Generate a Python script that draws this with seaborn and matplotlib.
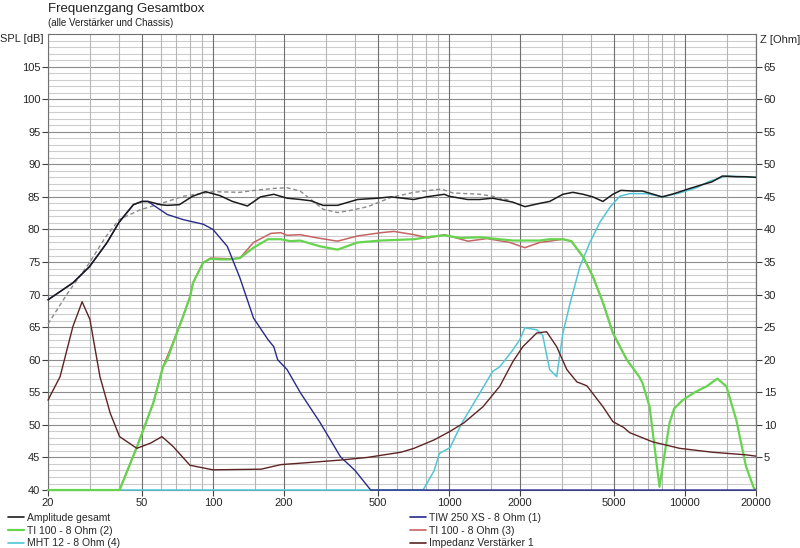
import matplotlib
matplotlib.use("Agg")
import matplotlib.pyplot as plt
from matplotlib.lines import Line2D
from matplotlib.ticker import NullLocator
import pandas as pd
import seaborn as sns

sns.set_style("white")
plt.rcParams['font.family'] = ['Liberation Sans', 'DejaVu Sans']

# --- Daten ---
f_ges = [20, 25.5, 30, 35.6, 40, 46, 50, 53, 60, 64, 72, 82, 93, 107, 121, 140, 159, 181, 206,
         235, 260, 293, 337, 410, 500, 567, 710, 800, 956, 1000, 1200, 1350, 1530, 1860, 2100,
         2420, 2670, 3040, 3350, 3700, 4070, 4490, 4950, 5350, 6000, 6600, 8000, 9000, 10500,
         11900, 13000, 14400, 16500, 18000, 20000]
spl_ges = [69.2, 71.8, 74.3, 78.0, 81.1, 83.8, 84.3, 84.3, 83.8, 83.7, 83.8, 85.1, 85.8, 85.2,
           84.3, 83.6, 85.0, 85.4, 84.8, 84.6, 84.4, 83.7, 83.7, 84.6, 84.8, 85.0, 84.6, 85.0,
           85.4, 85.1, 84.6, 84.6, 84.8, 84.2, 83.5, 84.0, 84.3, 85.4, 85.7, 85.4, 85.0, 84.3,
           85.4, 86.0, 85.9, 85.9, 85.0, 85.5, 86.3, 86.9, 87.3, 88.2, 88.1, 88.1, 88.0]

f_ziel = [20, 24.3, 30, 35, 40, 49, 58, 75, 100, 130, 150, 181, 206, 234, 260, 293, 337, 380,
          453, 567, 711, 927, 1040, 1355, 1531, 1800]
spl_ziel = [65.5, 70.3, 74.9, 78.8, 81.5, 83.0, 83.8, 85.1, 85.8, 85.7, 86.0, 86.3, 86.4, 85.9,
            84.6, 83.1, 82.6, 82.9, 83.5, 84.9, 85.7, 86.2, 85.6, 85.4, 85.1, 84.5]

f_tiw = [20, 25.5, 30, 35.6, 40, 46, 50, 53, 64, 75, 91, 100, 115, 130, 148.5, 171, 181, 188,
         206, 235, 285, 347, 400, 466, 20000]
spl_tiw = [69.2, 71.8, 74.3, 78.0, 81.1, 83.8, 84.3, 84.3, 82.3, 81.5, 80.8, 80.0, 77.4, 72.6,
           66.4, 63.1, 62.0, 60.0, 58.5, 54.9, 50.3, 45.1, 43.0, 40, 40]

f_ti2 = [20, 40.2, 47.6, 55.9, 61.4, 64, 70.3, 74.6, 80, 82.3, 90.8, 97.6, 107, 118, 130, 148.5,
         171, 194, 213, 234, 285, 337, 410, 514, 711, 841, 956, 1113, 1355, 1865, 2423, 2670,
         3040, 3300, 3700, 4070, 4490, 4950, 5670, 6400, 6610, 7080, 7800, 8600, 9000, 9780,
         11000, 12330, 13720, 14980, 16490, 18150, 19590, 20000]
spl_ti2 = [40, 40, 46.6, 53.4, 58.9, 60.0, 64.1, 66.6, 69.7, 71.8, 74.9, 75.5, 75.4, 75.4, 75.6,
           77.2, 78.5, 78.5, 78.2, 78.3, 77.4, 76.9, 78.0, 78.3, 78.5, 78.9, 79.1, 78.7, 78.8,
           78.3, 78.3, 78.5, 78.5, 78.2, 75.8, 72.8, 68.8, 64.1, 60.0, 57.4, 56.4, 52.8, 40.5,
           50.3, 52.5, 53.8, 55.0, 55.9, 57.1, 55.9, 50.8, 43.6, 40.3, 40]

f_ti3 = [20, 40.2, 47.6, 55.9, 61.4, 70.3, 74.6, 80, 82.3, 90.8, 97.6, 118, 130, 148.5, 176,
         194, 206, 234, 277, 337, 410, 514, 584, 711, 816, 956, 1204, 1449, 1812, 2097, 2423,
         2670, 3040, 3300, 3700, 4070, 4490, 4950, 5670]
spl_ti3 = [40, 40, 46.6, 53.4, 58.9, 64.1, 66.6, 69.7, 71.8, 74.9, 75.6, 75.5, 75.6, 78.0, 79.4,
           79.5, 79.1, 79.2, 78.7, 78.2, 79.0, 79.5, 79.7, 79.2, 78.7, 79.2, 78.2, 78.6, 78.0,
           77.2, 78.0, 78.2, 78.5, 78.2, 75.8, 72.8, 68.8, 64.1, 60.0]

f_mht = [20, 777, 866, 910, 1010, 1135, 1317, 1531, 1640, 1865, 1997, 2097, 2353, 2494, 2670,
         2861, 3036, 3251, 3587, 3955, 4359, 4810, 5297, 5834, 6870, 8038, 9490, 11190, 12700,
         14980, 17460, 20000]
spl_mht = [40, 40, 43.0, 45.6, 46.5, 50.3, 54.2, 58.2, 58.9, 61.5, 63.1, 64.9, 64.6, 63.8,
           58.5, 57.4, 64.0, 68.5, 74.3, 78.0, 81.1, 83.4, 85.1, 85.5, 85.5, 85.0, 85.6, 86.4,
           87.4, 88.2, 88.1, 88.0]

f_imp = [20, 22.5, 25.5, 27.9, 30.1, 33.2, 36.7, 40.2, 47.6, 54.4, 60.8, 67.7, 79.9, 100, 160,
         194, 251, 347, 450, 626, 711, 866, 1010, 1156, 1395, 1640, 1865, 2056, 2353, 2593,
         2861, 3157, 3483, 3840, 4490, 4950, 5500, 5834, 7290, 9490, 13070, 18150, 20000]
z_imp = [13.8, 17.4, 25.1, 28.9, 26.2, 17.4, 11.8, 8.2, 6.4, 7.2, 8.2, 6.7, 3.8, 3.1, 3.2, 3.9,
         4.2, 4.6, 5.0, 5.8, 6.4, 7.7, 9.0, 10.3, 12.8, 15.9, 19.7, 22.0, 24.1, 24.3, 22.0,
         18.5, 16.6, 16.0, 12.8, 10.5, 9.6, 8.8, 7.4, 6.4, 5.8, 5.4, 5.2]

x_ticks = [20, 50, 100, 200, 500, 1000, 2000, 5000, 10000, 20000]
x_grid = [20, 30, 40, 50, 60, 70, 80, 90, 100, 150, 200, 300, 400, 500, 600, 700, 800, 900,
          1000, 1500, 2000, 3000, 4000, 5000, 6000, 7000, 8000, 9000, 10000, 15000, 20000]

c_ges, c_ziel, c_tiw = "#1c1c1c", "#8a8a8a", "#2a2a8c"
c_ti2, c_ti3, c_mht, c_imp = "#66d44e", "#c46464", "#52c6d6", "#5e2424"

fig = plt.figure(figsize=(8, 5.48), dpi=100)
ax = fig.add_axes([0.06, 0.1058, 0.885, 0.8321])

# Raster
for db in range(41, 110):
    ax.axhline(db, color="#8c8c8c" if db % 5 == 0 else "#cdcdcd", lw=0.8, zorder=0)
for fv in x_grid:
    ax.axvline(fv, color="#6e6e6e" if fv in x_ticks else "#b6b6b6", lw=0.8, zorder=0)

kurven = [
    (f_ziel, spl_ziel, c_ziel, (0, (3, 2)), 1.0),
    (f_mht, spl_mht, c_mht, "-", 1.1),
    (f_ti3, spl_ti3, c_ti3, "-", 1.1),
    (f_ti2, spl_ti2, c_ti2, "-", 1.6),
    (f_tiw, spl_tiw, c_tiw, "-", 1.0),
    (f_ges, spl_ges, c_ges, "-", 1.1),
]
for f, v, c, ls, lw in kurven:
    df = pd.DataFrame({"f": f, "v": v})
    sns.lineplot(data=df, x="f", y="v", ax=ax, color=c, lw=lw, linestyle=ls,
                 estimator=None, sort=False, clip_on=False, zorder=3)

ax.set_xscale("log")
ax.set_xlim(20, 20000)
ax.set_ylim(40, 110)
ax.set_xticks(x_ticks)
ax.set_xticklabels([str(t) for t in x_ticks])
ax.xaxis.set_minor_locator(NullLocator())
ax.set_yticks(range(40, 110, 5))
ax.set_xlabel("")
ax.set_ylabel("")
ax.tick_params(axis="both", direction="out", length=4, width=0.8, color="#404040",
               labelsize=8, pad=1.5, left=True, bottom=True)
for s in ax.spines.values():
    s.set_color("#707070")
    s.set_linewidth(0.8)
    s.set_zorder(1)

ax2 = ax.twinx()
df_imp = pd.DataFrame({"f": f_imp, "z": z_imp})
sns.lineplot(data=df_imp, x="f", y="z", ax=ax2, color=c_imp, lw=1.0,
             estimator=None, sort=False, clip_on=False)
ax2.set_ylim(0, 70)
ax2.set_yticks(range(5, 70, 5))
ax2.set_ylabel("")
ax2.tick_params(axis="y", direction="out", length=4, width=0.8, color="#404040",
                labelsize=8, pad=1.5, right=True)
ax2.set_xlim(20, 20000)
for side in ["top", "bottom", "left"]:
    ax2.spines[side].set_visible(False)
ax2.spines["right"].set_color("#707070")
ax2.spines["right"].set_linewidth(0.8)

fig.text(0.06, 1 - 3 / 548, "Frequenzgang Gesamtbox", fontsize=9.5, va="top", ha="left",
         color="#202020")
fig.text(0.06, 1 - 18 / 548, "(alle Verstärker und Chassis)", fontsize=7, va="top", ha="left",
         color="#202020")
fig.text(44 / 800, 1 - 39 / 548, "SPL [dB]", fontsize=8, va="center", ha="right")
fig.text(760 / 800, 1 - 40 / 548, "Z [Ohm]", fontsize=8, va="center", ha="left")

def handle(c, lw=1.2):
    return Line2D([0], [0], color=c, lw=lw)

leg_kw = dict(frameon=False, fontsize=7.5, handlelength=1.5, handletextpad=0.35,
              labelspacing=0.25, borderpad=0, borderaxespad=0, loc="upper left")
fig.legend([handle(c_ges), handle(c_ti2, 1.6), handle(c_mht)],
           ["Amplitude gesamt", "TI 100 - 8 Ohm (2)", "MHT 12 - 8 Ohm (4)"],
           bbox_to_anchor=(8 / 800, 1 - 513 / 548), **leg_kw)
fig.legend([handle(c_tiw), handle(c_ti3), handle(c_imp)],
           ["TIW 250 XS - 8 Ohm (1)", "TI 100 - 8 Ohm (3)", "Impedanz Verstärker 1"],
           bbox_to_anchor=(410 / 800, 1 - 513 / 548), **leg_kw)

fig.savefig("out.png", dpi=100)
